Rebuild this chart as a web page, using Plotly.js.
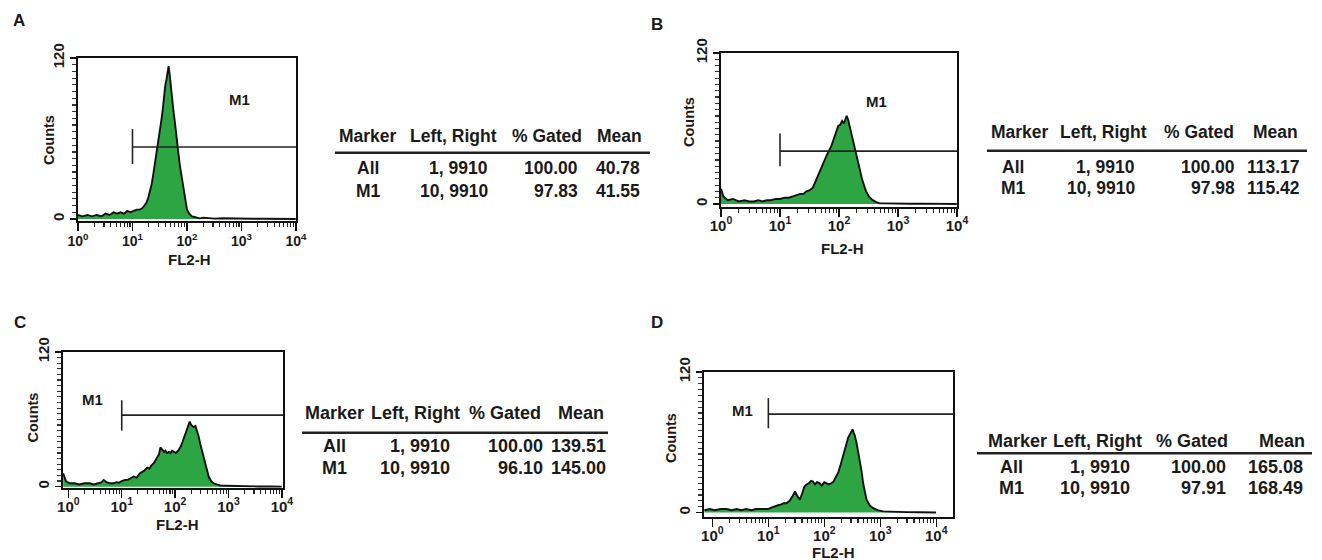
<!DOCTYPE html>
<html>
<head>
<meta charset="utf-8">
<script src="https://cdn.plot.ly/plotly-3.0.1.min.js"></script>
<style>html,body{margin:0;padding:0;background:#fff;}#chart{width:1322px;height:560px;}</style>
</head>
<body>
<div id="chart"></div>
<script>
// ---------------- DATA ----------------
const panelLetters = ['A', 'B', 'C', 'D'];
const xTitle = 'FL2-H';
const yTitle = 'Counts';

const fl2A = [1, 1.2, 1.5, 1.8, 2.2, 2.7, 3.2, 3.8, 4.5, 5.2, 6, 7, 8, 9.2, 10.5, 12, 13.5, 15, 16.5, 18, 19.5, 21, 22.5, 24, 26, 28, 30, 32, 34, 36, 38, 40, 42, 44, 46, 48, 50, 53, 56, 60, 64, 69, 74, 80, 87, 94, 100, 110, 123, 137, 151, 170, 200, 250, 320, 450, 700, 1000, 1500, 2500, 4000, 7000, 9910];
const cntA = [3, 2, 3, 2, 3, 2, 4, 3, 5, 4, 5, 4, 6, 5, 6, 7, 7, 8, 10, 12, 16, 21, 26, 33, 42, 50, 58, 66, 74, 82, 92, 100, 104, 110, 114, 108, 100, 92, 82, 72, 60, 50, 40, 31, 20, 13, 7, 4, 2, 1.5, 1, 0.5, 1, 0.5, 0.3, 0.5, 0.2, 0.3, 0.2, 0.2, 0.1, 0.1, 0];

const fl2B = [1, 1.1, 1.3, 1.6, 2, 2.5, 3, 3.6, 4.3, 5, 6, 7, 8.5, 10, 12, 14, 16.5, 19, 22, 25, 28, 32, 36, 40, 45, 50, 55, 61, 67, 74, 82, 90, 97, 105, 113, 121, 128, 135, 143, 151, 160, 170, 182, 196, 210, 224, 245, 265, 288, 320, 372, 430, 490, 600, 800, 1100, 1600, 2500, 4000, 6500, 9910];
const cntB = [12, 6, 3, 4, 2, 3, 2, 2, 3, 2, 3, 3, 4, 4, 5, 5, 6, 7, 8, 8, 10, 11, 13, 18, 24, 28, 33, 38, 42, 46, 52, 58, 62, 63, 66, 64, 68, 70, 67, 62, 58, 53, 46, 40, 34, 27, 20, 15, 10, 6, 3, 1.5, 0.5, 0.5, 0.3, 0.3, 0.2, 0.3, 0.1, 0.2, 0];

const fl2C = [0.8, 0.9, 1.05, 1.3, 1.6, 2, 2.5, 3, 3.6, 4.2, 4.6, 5.2, 6, 7, 8, 8.8, 10, 11.5, 13, 15, 16.7, 19, 22, 26, 30, 33, 36, 40, 43, 47, 50, 53, 57, 62, 66, 70, 76, 82, 88, 94, 103, 114, 125, 138, 155, 170, 187, 200, 222, 240, 257, 275, 296, 322, 352, 390, 425, 470, 525, 600, 702, 900, 1300, 2000, 3500, 6000, 9910];
const cntC = [12, 5, 3, 3, 2, 3, 3, 2, 3, 4, 6, 4, 3, 3, 4, 3.5, 5, 6, 6, 8, 9, 8, 12, 14, 17, 16, 19, 21, 24, 27, 29, 35, 33, 31, 32, 30, 31, 30, 32, 31, 30, 32, 35, 40, 47, 52, 58, 55, 53, 54, 50, 45, 38, 31, 24, 16, 9, 5, 3, 2, 1, 0.8, 0.5, 0.3, 0.2, 0.2, 0];

const fl2D = [0.72, 0.9, 1.1, 1.4, 1.8, 2.2, 2.7, 3.3, 4, 5, 6, 7.2, 8.5, 10, 11, 12.2, 14.5, 17, 19, 21, 24, 27, 30, 33, 36.7, 40, 44, 48, 53, 58, 63, 68, 74, 83, 90, 100, 110, 120, 132, 144, 160, 177, 196, 218, 240, 267, 290, 305, 320, 335, 350, 378, 405, 432, 465, 495, 530, 569, 650, 747, 900, 1125, 1500, 1950, 3000, 5000, 9910];
const cntD = [2, 3, 2, 3, 3, 2, 3, 2, 3, 2, 3, 3, 3, 3, 4, 5, 6, 7, 8, 8, 10, 14, 18, 14, 11, 16, 22, 24, 25, 27, 26.5, 24, 26, 25, 23, 26, 25, 24, 25, 26, 30, 34, 41, 48, 56, 64, 67, 69, 71, 68, 66, 59, 52, 45, 35, 25, 17, 11, 6, 3.7, 2, 1, 0.8, 0.5, 0.4, 0.2, 0];

// M1 gate: left channel, gate level (counts), gate bar low/high (counts), label position
const m1Left = [10, 10, 10, 10];
const m1Level = [53.7, 42, 63.7, 84];
const m1BarLow = [41, 30, 50, 72];
const m1BarHigh = [67, 56, 77, 97.7];
const m1LabelX = [930, 437, 2.8, 3.5];
const m1LabelY = [88.7, 81.8, 78, 87];

// x tick labels (decades) and y tick labels
const xTickVals = [1, 10, 100, 1000, 10000];
const xTickText = ['10<sup>0</sup>', '10<sup>1</sup>', '10<sup>2</sup>', '10<sup>3</sup>', '10<sup>4</sup>'];
const yTickVals = [0, 120];
const yTickText = ['0', '120'];

// statistics tables
const tableHeader = ['Marker', 'Left, Right', '% Gated', 'Mean'];
const markerNames = ['All', 'M1'];
const leftRight = ['1, 9910', '10, 9910'];
const gatedA = ['100.00', '97.83'], meanA = ['40.78', '41.55'];
const gatedB = ['100.00', '97.98'], meanB = ['113.17', '115.42'];
const gatedC = ['100.00', '96.10'], meanC = ['139.51', '145.00'];
const gatedD = ['100.00', '97.91'], meanD = ['165.08', '168.49'];

// ---------------- LAYOUT HELPERS ----------------
const W = 1322, H = 560;
const px = v => v / W;
const py = v => 1 - v / H;
const FONT = 'Liberation Sans, Arial, Helvetica, sans-serif';
const GREEN = '#2ea543';
const INK = '#1a1a1a';

const minorX = [];
[1, 10, 100, 1000].forEach(d => { for (let k = 2; k <= 9; k++) minorX.push(d * k); });
const minorY = [];
for (let v = 5; v < 120; v += 5) minorY.push(v);

// panel geometry (pixels)
const panels = [
  {x0: 78, x1: 296, yTop: 58, yBot: 221, xr: [0, 4], yr: [-1.5, 120], xs: 14, so: -2, fl2: fl2A, cnt: cntA,
   letter: [19, 21], ytl: [49, 140], xtl: [190, 259]},
  {x0: 721, x1: 957, yTop: 53, yBot: 207, xr: [0, 4], yr: [-2.4, 120], xs: 15, so: -4, fl2: fl2B, cnt: cntB,
   letter: [657, 25], ytl: [689, 122], xtl: [842, 248]},
  {x0: 63, x1: 283, yTop: 352, yBot: 488, xr: [-0.1, 4.02], yr: [-1.2, 120], xs: 15, so: -4, fl2: fl2C, cnt: cntC,
   letter: [20, 322], ytl: [32.5, 418], xtl: [177.5, 524]},
  {x0: 704, x1: 953, yTop: 372, yBot: 517, xr: [-0.15, 4.3], yr: [-3.8, 120], xs: 15, so: -4, fl2: fl2D, cnt: cntD,
   letter: [657, 322], ytl: [671, 438], xtl: [834, 552]}
];

const data = [];
const layout = {
  width: W, height: H,
  margin: {l: 0, r: 0, t: 0, b: 0},
  paper_bgcolor: '#fff', plot_bgcolor: '#fff',
  showlegend: false,
  font: {family: FONT, color: INK, weight: 700, size: 14},
  annotations: [], shapes: []
};

panels.forEach((p, i) => {
  const n = i === 0 ? '' : String(i + 1);
  const xa = 'x' + n, ya = 'y' + n;
  layout['xaxis' + n] = {
    type: 'log', range: p.xr, domain: [px(p.x0), px(p.x1)], anchor: ya,
    showline: true, mirror: true, linecolor: '#111', linewidth: 1.7,
    showgrid: false, zeroline: false, fixedrange: true,
    tickmode: 'array', tickvals: xTickVals, ticktext: xTickText,
    ticks: 'outside', ticklen: 8, tickwidth: 1.4, tickcolor: '#111',
    ticklabelstandoff: p.so,
    minor: {tickmode: 'array', tickvals: minorX, ticks: 'outside', ticklen: 4, tickwidth: 1.1, tickcolor: '#222'},
    tickfont: {size: p.xs, family: FONT, weight: 700, color: INK}
  };
  layout['yaxis' + n] = {
    range: p.yr, domain: [py(p.yBot), py(p.yTop)], anchor: xa,
    showline: true, mirror: true, linecolor: '#111', linewidth: 1.7,
    showgrid: false, zeroline: false, fixedrange: true,
    tickmode: 'array', tickvals: yTickVals, ticktext: yTickText, tickangle: -90,
    ticks: 'outside', ticklen: 6, tickwidth: 1.4, tickcolor: '#111',
    minor: {tickmode: 'array', tickvals: minorY, ticks: 'outside', ticklen: 4, tickwidth: 1.2, tickcolor: '#333'},
    tickfont: {size: 15, family: FONT, weight: 700, color: INK}
  };
  // histogram
  data.push({
    type: 'scatter', mode: 'lines', x: p.fl2, y: p.cnt, xaxis: xa, yaxis: ya,
    fill: 'tozeroy', fillcolor: GREEN, line: {color: '#111', width: 1.9}, hoverinfo: 'skip'
  });
  // M1 gate
  const xEnd = Math.pow(10, p.xr[1]);
  data.push({
    type: 'scatter', mode: 'lines', x: [m1Left[i], m1Left[i]], y: [m1BarLow[i], m1BarHigh[i]],
    xaxis: xa, yaxis: ya, line: {color: '#222', width: 1.6}, hoverinfo: 'skip'
  });
  data.push({
    type: 'scatter', mode: 'lines', x: [m1Left[i], xEnd], y: [m1Level[i], m1Level[i]],
    xaxis: xa, yaxis: ya, line: {color: '#222', width: 1.6}, hoverinfo: 'skip'
  });
  layout.annotations.push({
    xref: xa, yref: ya, x: Math.log10(m1LabelX[i]), y: m1LabelY[i], text: 'M1', showarrow: false,
    font: {size: 15, family: FONT, weight: 700, color: INK}
  });
  // axis titles
  layout.annotations.push({
    xref: 'paper', yref: 'paper', x: px(p.xtl[0]), y: py(p.xtl[1]), text: xTitle, showarrow: false,
    xanchor: 'center', yanchor: 'middle', font: {size: 15, family: FONT, weight: 700, color: INK}
  });
  layout.annotations.push({
    xref: 'paper', yref: 'paper', x: px(p.ytl[0]), y: py(p.ytl[1]), text: yTitle, showarrow: false,
    textangle: -90, xanchor: 'center', yanchor: 'middle', font: {size: 14.5, family: FONT, weight: 700, color: INK}
  });
  // panel letter
  layout.annotations.push({
    xref: 'paper', yref: 'paper', x: px(p.letter[0]), y: py(p.letter[1]), text: panelLetters[i],
    showarrow: false, xanchor: 'center', yanchor: 'middle',
    font: {size: 17, family: FONT, weight: 700, color: INK}
  });
});

// tables
const tables = [
  {hdrY: 136, lineY: 152.7, lineX: [335, 650], rowY: [168, 191], hdrX: [367.5, 453.5, 547, 619], cx: [368, 490, 580, 642], size: 17.5, g: gatedA, m: meanA},
  {hdrY: 132.5, lineY: 150.7, lineX: [987, 1307], rowY: [166.7, 188], hdrX: [1019.5, 1103.3, 1199, 1275.5], cx: [1013, 1136.7, 1236.7, 1301.7], size: 17.5, g: gatedB, m: meanB},
  {hdrY: 413, lineY: 432.7, lineX: [302, 608], rowY: [446, 468], hdrX: [334, 415.8, 504.8, 580.5], cx: [335, 451.7, 545, 608], size: 18, g: gatedC, m: meanC},
  {hdrY: 440.7, lineY: 453.3, lineX: [977, 1312], rowY: [466.7, 488], hdrX: [1017.5, 1097.3, 1192.3, 1281.5], cx: [1011.7, 1131.7, 1228, 1305], size: 18, g: gatedD, m: meanD}
];
tables.forEach(t => {
  const f = {size: t.size, family: FONT, weight: 700, color: INK};
  tableHeader.forEach((h, j) => {
    layout.annotations.push({xref: 'paper', yref: 'paper', x: px(t.hdrX[j]), y: py(t.hdrY), text: h,
      showarrow: false, xanchor: 'center', yanchor: 'middle', font: f});
  });
  layout.shapes.push({type: 'line', xref: 'paper', yref: 'paper', x0: px(t.lineX[0]), x1: px(t.lineX[1]),
    y0: py(t.lineY), y1: py(t.lineY), line: {color: '#222', width: 2.5}});
  markerNames.forEach((mk, r) => {
    const cells = [mk, leftRight[r], t.g[r], t.m[r]];
    cells.forEach((c, j) => {
      layout.annotations.push({xref: 'paper', yref: 'paper', x: px(t.cx[j]), y: py(t.rowY[r]), text: c,
        showarrow: false, xanchor: j === 0 ? 'center' : 'right', yanchor: 'middle', font: f});
    });
  });
});

Plotly.newPlot('chart', data, layout, {staticPlot: true, displayModeBar: false});
</script>
</body>
</html>
